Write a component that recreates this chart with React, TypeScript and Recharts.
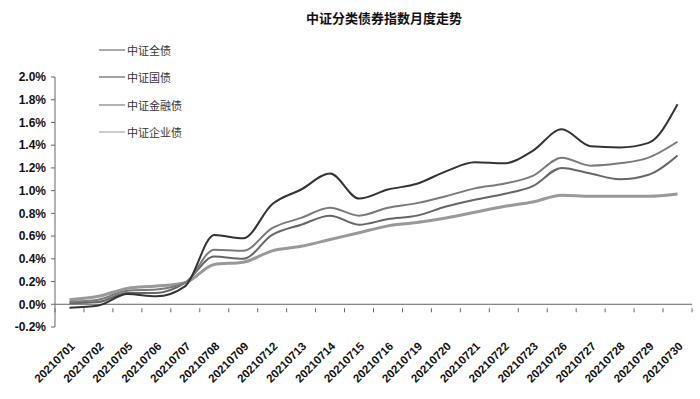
import React from 'react';
import { LineChart, Line, XAxis, YAxis, ReferenceLine } from 'recharts';

const dates = ['20210701','20210702','20210705','20210706','20210707','20210708','20210709','20210712','20210713','20210714','20210715','20210716','20210719','20210720','20210721','20210722','20210723','20210726','20210727','20210728','20210729','20210730'];
const quanZhai = [0.01, 0.02, 0.10, 0.10, 0.19, 0.42, 0.40, 0.61, 0.70, 0.78, 0.70, 0.75, 0.78, 0.86, 0.92, 0.97, 1.04, 1.20, 1.15, 1.10, 1.14, 1.31];
const guoZhai = [-0.03, -0.01, 0.09, 0.07, 0.16, 0.61, 0.58, 0.88, 1.01, 1.15, 0.93, 1.01, 1.06, 1.17, 1.25, 1.24, 1.35, 1.54, 1.39, 1.38, 1.42, 1.76];
const jinRongZhai = [0.02, 0.04, 0.12, 0.13, 0.19, 0.48, 0.47, 0.67, 0.76, 0.85, 0.78, 0.85, 0.89, 0.95, 1.02, 1.06, 1.13, 1.29, 1.22, 1.24, 1.29, 1.43];
const qiYeZhai = [0.04, 0.07, 0.14, 0.16, 0.19, 0.35, 0.37, 0.47, 0.51, 0.57, 0.63, 0.69, 0.72, 0.76, 0.81, 0.86, 0.90, 0.96, 0.95, 0.95, 0.95, 0.97];
const yTicks = [-0.2, 0, 0.2, 0.4, 0.6, 0.8, 1.0, 1.2, 1.4, 1.6, 1.8, 2.0];

const seriesDefs = [
  { key: 'qz', name: '中证全债', color: '#666666', legendColor: '#555555', width: 2 },
  { key: 'gz', name: '中证国债', color: '#333333', legendColor: '#444444', width: 2 },
  { key: 'jr', name: '中证金融债', color: '#7a7a7a', legendColor: '#666666', width: 2 },
  { key: 'qy', name: '中证企业债', color: '#999999', legendColor: '#999999', width: 3 },
];

const data = dates.map((d, i) => ({ date: d, qz: quanZhai[i], gz: guoZhai[i], jr: jinRongZhai[i], qy: qiYeZhai[i] }));

const W = 700, H = 399;
const M = { top: 77, right: 8, left: 0, bottom: 0 };
const YW = 55, XH = 72;
const plotW = W - M.left - M.right - YW;
const plotH = H - M.top - M.bottom - XH;
const band = plotW / dates.length;
const zeroOffset = plotH * (0 - -0.2) / (2.0 - -0.2);

const XTick = (props: any) => {
  const { x, y, payload, index } = props;
  const ty = y - zeroOffset;
  return (
    <g>
      <line x1={x - band / 2} x2={x - band / 2} y1={ty} y2={ty - 4} stroke="#666" strokeWidth={1} />
      {index === dates.length - 1 && (
        <line x1={x + band / 2} x2={x + band / 2} y1={ty} y2={ty - 4} stroke="#666" strokeWidth={1} />
      )}
      <text x={0} y={0} transform={`translate(${x + 6},${y + 12}) rotate(-45)`} textAnchor="end"
        fontSize={11.5} fontWeight="bold" fill="#111" fontFamily="Liberation Sans, Arial, sans-serif">
        {payload.value}
      </text>
    </g>
  );
};

export default function App() {
  return (
    <div style={{ position: 'absolute', left: 0, top: 0, width: W, height: H, background: '#fff' }}>
      <div style={{ position: 'absolute', top: 8, left: 0, width: 768, textAlign: 'center', fontFamily: '"Noto Sans CJK SC", sans-serif', fontWeight: 'bold', fontSize: 13, color: '#111' }}>
        中证分类债券指数月度走势
      </div>
      <div style={{ position: 'absolute', top: 36, left: 99, fontFamily: '"Noto Sans CJK SC", sans-serif', fontSize: 11, color: '#333', zIndex: 2 }}>
        {seriesDefs.map((s) => (
          <div key={s.key} style={{ display: 'flex', alignItems: 'center', height: 27.5 }}>
            <svg width={28} height={10}><line x1={0} x2={26} y1={5} y2={5} stroke={s.legendColor} strokeWidth={1} /></svg>
            <span>{s.name}</span>
          </div>
        ))}
      </div>
      <LineChart width={W} height={H} data={data} margin={M}>
        <YAxis width={YW} domain={[-0.2, 2.0]} ticks={yTicks} type="number" allowDataOverflow
          tickFormatter={(v: number) => v.toFixed(1) + '%'}
          tick={{ fontSize: 12, fontWeight: 'bold', fill: '#111', fontFamily: 'Liberation Sans, Arial, sans-serif' }}
          axisLine={{ stroke: '#666' }} tickLine={{ stroke: '#666' }} tickSize={4} tickMargin={5} />
        <XAxis dataKey="date" scale="band" height={XH} axisLine={false} tickLine={false} interval={0} tick={<XTick />} />
        <ReferenceLine y={0} stroke="#666" strokeWidth={1} />
        {[seriesDefs[3], seriesDefs[0], seriesDefs[2], seriesDefs[1]].map((s) => (
          <Line key={s.key} dataKey={s.key} name={s.name} type="monotone" stroke={s.color}
            strokeWidth={s.width} dot={false} isAnimationActive={false} />
        ))}
      </LineChart>
    </div>
  );
}
